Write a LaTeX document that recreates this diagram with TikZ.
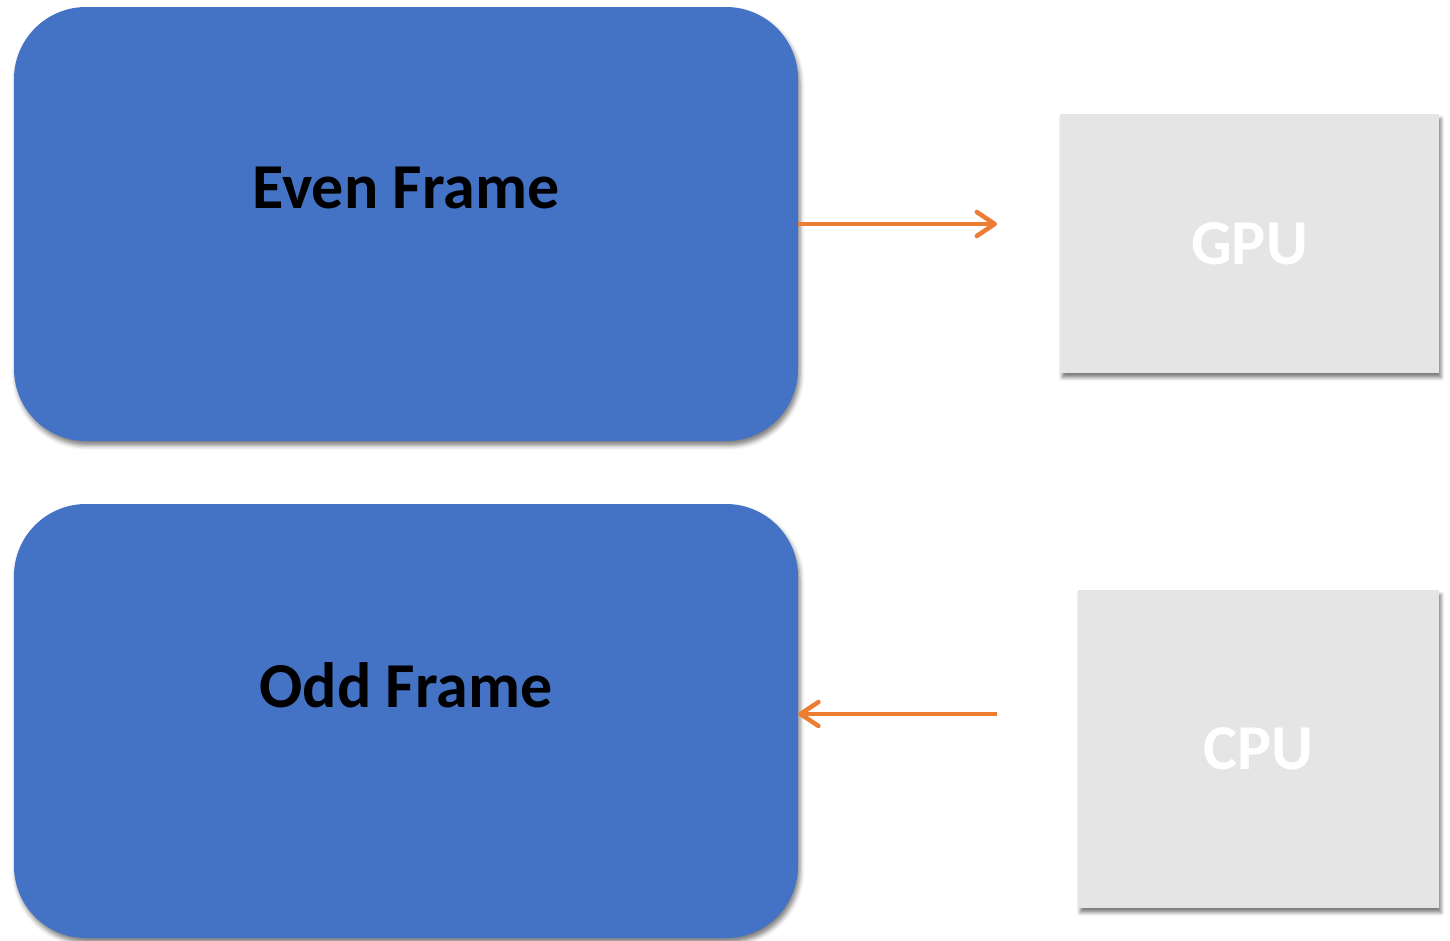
\documentclass[tikz,border=0pt]{standalone}
\usepackage{fontspec}
\setmainfont{Carlito}
\usetikzlibrary{arrows.meta,shadows.blur}
\definecolor{frameblue}{HTML}{4472C4}
\definecolor{unitgray}{HTML}{E5E5E5}
\definecolor{linkorange}{HTML}{ED7D31}
\tikzset{
  framebox/.style={fill=frameblue, draw=none, rounded corners=72pt,
    minimum width=784pt, minimum height=434pt, inner sep=0pt,
    blur shadow={shadow xshift=2pt, shadow yshift=-4.5pt, shadow blur radius=4.5pt, shadow opacity=50}},
  framelabel/.style={font=\fontsize{64}{64}\selectfont\bfseries, text=black},
  unitbox/.style={fill=unitgray, draw=none, inner sep=0pt,
    font=\fontsize{64}{64}\selectfont\bfseries, text=white,
    blur shadow={shadow xshift=2pt, shadow yshift=-4.5pt, shadow blur radius=3.5pt, shadow opacity=50}},
  link/.style={draw=linkorange, line width=3.5pt,
    -{Straight Barb[length=18pt, width=24pt, line width=4.5pt, round]}}
}
\begin{document}
\begin{tikzpicture}[x=1pt, y=-1pt]
  \useasboundingbox (0,0) rectangle (1450,940);

  % memory frames
  \node[framebox, label={[framelabel, yshift=36pt]center:Even Frame}] (even) at (406,224) {};
  \node[framebox, label={[framelabel, yshift=36pt]center:Odd Frame}] (odd) at (406,721) {};

  % processing units
  \node[unitbox, minimum width=379pt, minimum height=259pt] (gpu) at (1249.5,243.5) {GPU};
  \node[unitbox, minimum width=361pt, minimum height=318pt] (cpu) at (1258.5,749) {CPU};

  % transfers
  \coordinate (gpuin) at (997,224);
  \coordinate (cpuout) at (997,714);
  \draw[link] (even.east) -- (gpuin);
  \draw[link] (cpuout) -- (odd.east |- cpuout);
\end{tikzpicture}
\end{document}
